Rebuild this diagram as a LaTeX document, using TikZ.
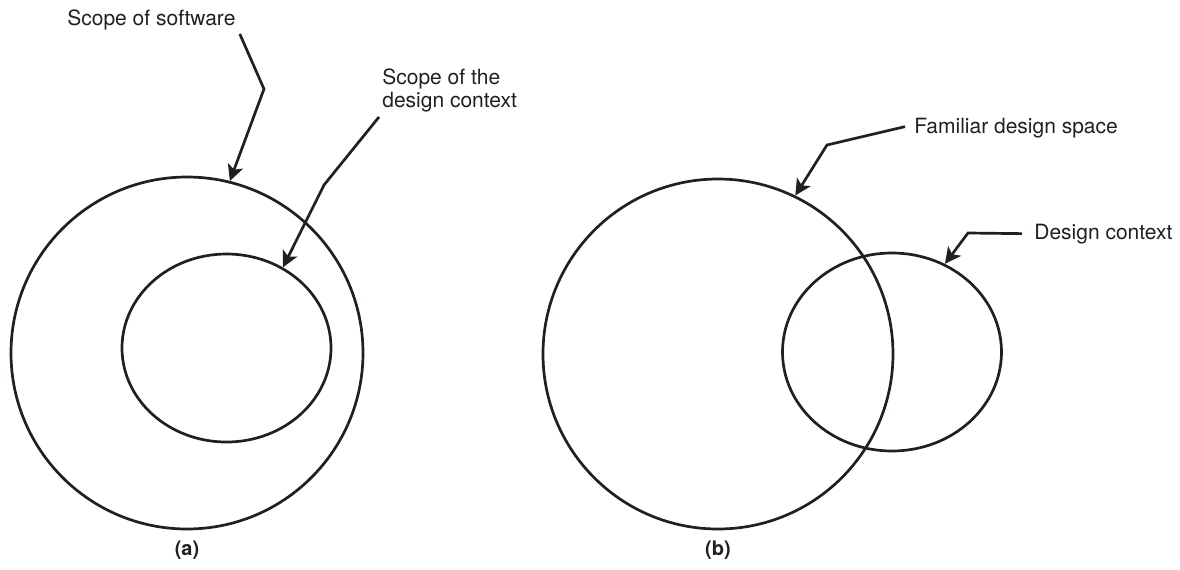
\documentclass[tikz,border=0pt]{standalone}
\usepackage{fontspec}
\setmainfont{TeX Gyre Heros}
\usetikzlibrary{shapes.geometric,arrows.meta,calc}
\definecolor{ink}{RGB}{35,31,32}
\begin{document}
\begin{tikzpicture}[x=0.5pt,y=-0.5pt,
  line width=1.35pt, draw=ink, text=ink,
  every node/.style={inner sep=0pt, font=\fontsize{10.5pt}{11.5pt}\selectfont},
  ring/.style={draw, circle},
  oval/.style={draw, ellipse},
  lbl/.style={align=left},
  tag/.style={font=\fontsize{10pt}{11pt}\selectfont\bfseries},
  pointer/.style={-{Stealth[length=8pt,width=8pt,inset=2pt]}, line join=miter}]
\useasboundingbox (0,0) rectangle (1180,569);

% (a): software scope containing the design context
\node[ring, minimum size=176pt] (softA) at (187,353) {};
\node[oval, minimum width=104.5pt, minimum height=94pt] (ctxA) at (226.5,348) {};

% (b): familiar design space overlapping the design context
\node[ring, minimum size=175pt] (famB) at (718,354) {};
\node[oval, minimum width=109.5pt, minimum height=99pt] (ctxB) at (892,352) {};

% labels
\node[lbl, anchor=base west] (lSoft) at (66,25) {Scope of software};
\node[lbl, anchor=north west] (lCtxA) at (381,67) {Scope of the\\design context};
\node[lbl, anchor=base west] (lFam) at (913,133) {Familiar design space};
\node[lbl, anchor=base west] (lCtxB) at (1033,239) {Design context};

\node[tag, anchor=base] (tagA) at (187,555) {(a)};
\node[tag, anchor=base] (tagB) at (718,555) {(b)};

% bends of the leader lines
\coordinate (kSoft) at (264,89);
\coordinate (kCtxA) at (324,185);
\coordinate (kFam) at (827,145);
\coordinate (kCtxB) at (968,233);

% leader lines
\draw[pointer] ($(lSoft.south east)+(3,3)$) -- (kSoft) -- (softA.76);
\draw[pointer] ($(lCtxA.south west)+(-2,4)$) -- (kCtxA) -- (ctxA.55);
\draw[pointer] ($(lFam.west)+(-8,-1)$) -- (kFam) -- (famB.64);
\draw[pointer] ($(lCtxB.west)+(-11,0)$) -- (kCtxB) -- (ctxB.59);
\end{tikzpicture}
\end{document}
